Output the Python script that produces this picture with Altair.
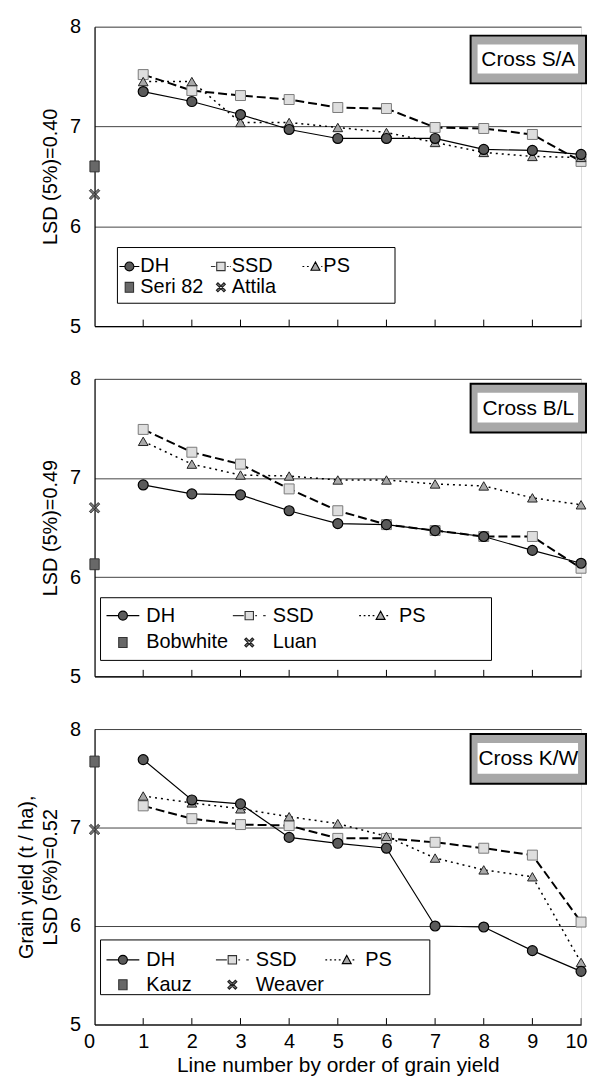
import altair as alt
import pandas as pd

FONT = "Liberation Sans"

LINES = list(range(1, 11))
X_LABELS = list(range(0, 11))
SERIES = ["DH", "SSD", "PS"]

# Cross S/A
SA_DH = [7.35, 7.25, 7.12, 6.97, 6.88, 6.88, 6.88, 6.77, 6.76, 6.72]
SA_SSD = [7.52, 7.36, 7.31, 7.27, 7.19, 7.18, 6.99, 6.98, 6.92, 6.65]
SA_PS = [7.45, 7.45, 7.04, 7.04, 6.99, 6.94, 6.84, 6.74, 6.70, 6.69]
SA_CHECKS = ["Seri 82", "Attila"]
SA_CHECK_VALUES = [6.60, 6.32]

# Cross B/L
BL_DH = [6.93, 6.84, 6.83, 6.67, 6.54, 6.53, 6.47, 6.41, 6.27, 6.14]
BL_SSD = [7.49, 7.26, 7.14, 6.89, 6.67, 6.53, 6.47, 6.41, 6.41, 6.09]
BL_PS = [7.37, 7.14, 7.03, 7.02, 6.98, 6.98, 6.94, 6.92, 6.80, 6.73]
BL_CHECKS = ["Bobwhite", "Luan"]
BL_CHECK_VALUES = [6.13, 6.70]

# Cross K/W
KW_DH = [7.69, 7.28, 7.24, 6.90, 6.84, 6.79, 6.00, 5.99, 5.75, 5.54]
KW_SSD = [7.22, 7.09, 7.03, 7.02, 6.89, 6.89, 6.85, 6.79, 6.72, 6.04]
KW_PS = [7.32, 7.25, 7.19, 7.11, 7.04, 6.91, 6.69, 6.57, 6.50, 5.63]
KW_CHECKS = ["Kauz", "Weaver"]
KW_CHECK_VALUES = [7.67, 6.98]

W = 489

CHECK1_PATH = "M-0.85,-1H0.85V1H-0.85Z"
CHECK2_PATH = "M-1,-0.7L-0.7,-1L1,0.7L0.7,1ZM1,-0.7L0.7,-1L-1,0.7L-0.7,1Z"

C_DH, C_SSD, C_PS, C_CK1, C_CK2 = "#5a5a5a", "#dedede", "#a8a8a8", "#686868", "#777777"


def fmt(v):
    return f"{v:.3f}".rstrip("0").rstrip(".")


def legend_paths(h, t):
    r = 0.45
    dh = (f"M{fmt(-h)},0H{fmt(-r)}M{fmt(r)},0H{fmt(h)}"
          f"M{fmt(-r)},0A{r},{r} 0 1,0 {r},0A{r},{r} 0 1,0 {fmt(-r)},0Z")
    ssd = (f"M{fmt(-h)},0H-0.55M-0.42,-0.42H0.42V0.42H-0.42Z"
           f"M0.6,0H0.78M{fmt(max(h - 0.25, 0.9))},0H{fmt(h)}")
    dots = ""
    p = -h
    while p + 0.18 < t - 0.55:
        dots += f"M{fmt(p)},0H{fmt(p + 0.18)}"
        p += 0.45
    ps = (dots + f"M{fmt(t)},-0.45L{fmt(t - 0.45)},0.38L{fmt(t + 0.45)},0.38Z"
          f"M{fmt(t + 0.58)},0H{fmt(min(t + 0.76, h))}")
    c1 = "M-0.42,-0.5H0.42V0.5H-0.42Z"
    c2 = "M-0.45,-0.3L-0.3,-0.45L0.45,0.3L0.3,0.45ZM0.45,-0.3L0.3,-0.45L-0.45,0.3L-0.3,0.45Z"
    return [dh, ssd, ps, c1, c2]


def panel(cross, ytitle, dh, ssd, ps, checks, check_values, bottom, lg, lbox, box, height):
    rows = []
    for name, vals in zip(SERIES, [dh, ssd, ps]):
        for x, y in zip(LINES, vals):
            rows.append({"series": name, "x": x, "y": y})
    df = pd.DataFrame(rows)
    chk = pd.DataFrame({"name": checks, "x": [0, 0], "y": check_values})
    ticks = pd.DataFrame({"x": LINES})

    if bottom:
        xaxis = alt.Axis(values=X_LABELS, ticks=False, labelFontSize=20, labelPadding=7,
                         labelColor="black", labelFont=FONT, domainColor="black", domainWidth=1.2,
                         grid=False, title="Line number by order of grain yield", format="d",
                         labelAlign={"condition": {"test": "datum.value == 0",
                                                   "value": "right"}, "value": "center"},
                         labelOffset={"condition": {"test": "datum.value == 10",
                                                    "value": -5}, "value": 0},
                         titleFontSize=21, titleFont=FONT, titleFontWeight="normal",
                         titleColor="black", titlePadding=3, labelFlush=False)
    else:
        xaxis = alt.Axis(labels=False, ticks=False, domainColor="black", domainWidth=1.2,
                         grid=False, title=None)
    yaxis = alt.Axis(values=[5, 6, 7, 8], ticks=False, labelFontSize=20, labelPadding=14,
                     labelColor="black", labelFont=FONT, domainColor="black", domainWidth=1.2,
                     grid=True, gridColor="#444", gridWidth=1, title=ytitle, format="d",
                     titleFontSize=20, titleFont=FONT, titleFontWeight="normal",
                     titleColor="black", titlePadding=9, titleLineHeight=24)
    xs = alt.Scale(domain=[0, 10], nice=False, zero=False)
    ys = alt.Scale(domain=[5, 8], nice=False, zero=False)
    X = alt.X("x:Q", scale=xs, axis=xaxis)
    Y = alt.Y("y:Q", scale=ys, axis=yaxis)

    base = alt.Chart(df)
    tick_layer = alt.Chart(ticks).mark_rule(color="black", strokeWidth=1).encode(
        x=X, y=alt.YDatum(5, scale=ys, axis=yaxis), y2=alt.Y2Datum(5.065))

    line_dh = base.transform_filter("datum.series == 'DH'").mark_line(
        color="black", strokeWidth=1.2).encode(x=X, y=Y)
    line_ssd = base.transform_filter("datum.series == 'SSD'").mark_line(
        color="black", strokeWidth=2, strokeDash=[9, 4]).encode(x=X, y=Y)
    line_ps = base.transform_filter("datum.series == 'PS'").mark_line(
        color="black", strokeWidth=1.5, strokeDash=[2, 4]).encode(x=X, y=Y)

    pt_ssd = base.transform_filter("datum.series == 'SSD'").mark_point(
        shape="square", filled=True, fill=C_SSD, stroke="#7a7a7a", strokeWidth=1,
        size=100, opacity=1).encode(x=X, y=Y)
    pt_ps = base.transform_filter("datum.series == 'PS'").mark_point(
        shape="triangle-up", filled=True, fill=C_PS, stroke="#222", strokeWidth=1,
        size=95, opacity=1).encode(x=X, y=Y)
    pt_dh = base.transform_filter("datum.series == 'DH'").mark_point(
        shape="circle", filled=True, fill=C_DH, stroke="black", strokeWidth=1.2,
        size=100, opacity=1).encode(x=X, y=Y)

    c1 = alt.Chart(chk).transform_filter(alt.datum.name == checks[0]).mark_point(
        shape=CHECK1_PATH, filled=True, fill=C_CK1, stroke="#333", strokeWidth=1,
        size=120, opacity=1).encode(x=X, y=Y)
    c2 = alt.Chart(chk).transform_filter(alt.datum.name == checks[1]).mark_point(
        shape=CHECK2_PATH, filled=True, fill=C_CK2, stroke="#222", strokeWidth=0.8,
        size=110, opacity=1).encode(x=X, y=Y)

    entries = SERIES + checks
    paths = legend_paths(lg["h"], lg["t"])
    L = alt.Legend(orient="none", legendX=lg["x"], legendY=lg["y"], columns=3,
                   direction="horizontal",
                   gridAlign="all", padding=0, columnPadding=lg["cp"],
                   rowPadding=lg["rp"],
                   symbolSize=400, symbolOffset=lg["so"], labelOffset=lg["lo"],
                   labelFontSize=20, labelFont=FONT, labelColor="black", title=None,
                   symbolStrokeWidth=1.1, labelLimit=300)
    leg_df = pd.DataFrame({"entry": entries})
    leg = alt.Chart(leg_df).transform_filter("false").mark_point(
        filled=True, opacity=1, strokeWidth=1.1).encode(
        shape=alt.Shape("entry:N", scale=alt.Scale(domain=entries, range=paths), legend=L),
        fill=alt.Fill("entry:N", scale=alt.Scale(
            domain=entries, range=[C_DH, C_SSD, C_PS, C_CK1, C_CK2]), legend=L),
        stroke=alt.Stroke("entry:N", scale=alt.Scale(
            domain=entries, range=["black", "#333", "black", "#333", "#222"]), legend=L),
    )

    bdata = alt.Data(values=[{"label": cross}])
    lx0, lx1, ly0, ly1 = lbox
    legbox = alt.Chart(bdata).mark_rect(fill="white", stroke="black", strokeWidth=1).encode(
        x=alt.value(lx0), x2=alt.value(lx1), y=alt.value(ly0), y2=alt.value(ly1))

    x0, x1, y0, y1 = box
    outer = alt.Chart(bdata).mark_rect(fill="#a8a8a8", stroke="black", strokeWidth=2).encode(
        x=alt.value(x0), x2=alt.value(x1), y=alt.value(y0), y2=alt.value(y1))
    inner = alt.Chart(bdata).mark_rect(fill="white").encode(
        x=alt.value(x0 + 7), x2=alt.value(x1 - 8), y=alt.value(y0 + 9), y2=alt.value(y1 - 10))
    txt = alt.Chart(bdata).mark_text(font=FONT, fontSize=21, color="black").encode(
        text="label:N", x=alt.value((x0 + x1) / 2), y=alt.value((y0 + 9 + y1 - 10) / 2 + 1))

    return alt.layer(legbox, tick_layer, line_dh, line_ssd, line_ps, pt_ssd, pt_ps, pt_dh,
                     c1, c2, leg, outer, inner, txt).properties(width=W, height=height)


p1 = panel("Cross S/A", "LSD (5%)=0.40", SA_DH, SA_SSD, SA_PS, SA_CHECKS, SA_CHECK_VALUES, False,
           dict(h=1.0, t=0.3, x=24, y=230, cp=4, rp=0, so=0, lo=0),
           (23, 302, 222, 278), (378, 494, 9, 57), 301)
p2 = panel("Cross B/L", "LSD (5%)=0.49", BL_DH, BL_SSD, BL_PS, BL_CHECKS, BL_CHECK_VALUES, False,
           dict(h=1.65, t=0.5, x=11, y=227, cp=1, rp=6, so=6.5, lo=12.5),
           (6, 399, 220, 283), (378, 494, 5, 54), 299)
p3 = panel("Cross K/W", ["Grain yield (t / ha),", "LSD (5%)=0.52"], KW_DH, KW_SSD, KW_PS,
           KW_CHECKS, KW_CHECK_VALUES, True,
           dict(h=1.65, t=0.5, x=11, y=221, cp=-8, rp=4, so=6.5, lo=12.5),
           (6, 337, 212, 267), (378, 494, 5, 55), 297)

chart = alt.vconcat(p1, p2, p3, spacing=53, bounds="flush").resolve_scale(
    shape="independent", fill="independent", stroke="independent"
).resolve_legend(
    shape="independent", fill="independent", stroke="independent"
).properties(
    padding={"left": 8, "top": 5, "right": 0, "bottom": 0}
).configure_view(stroke=None).configure(font=FONT)

chart.save("out.html", embed_options={"renderer": "svg", "actions": False})
